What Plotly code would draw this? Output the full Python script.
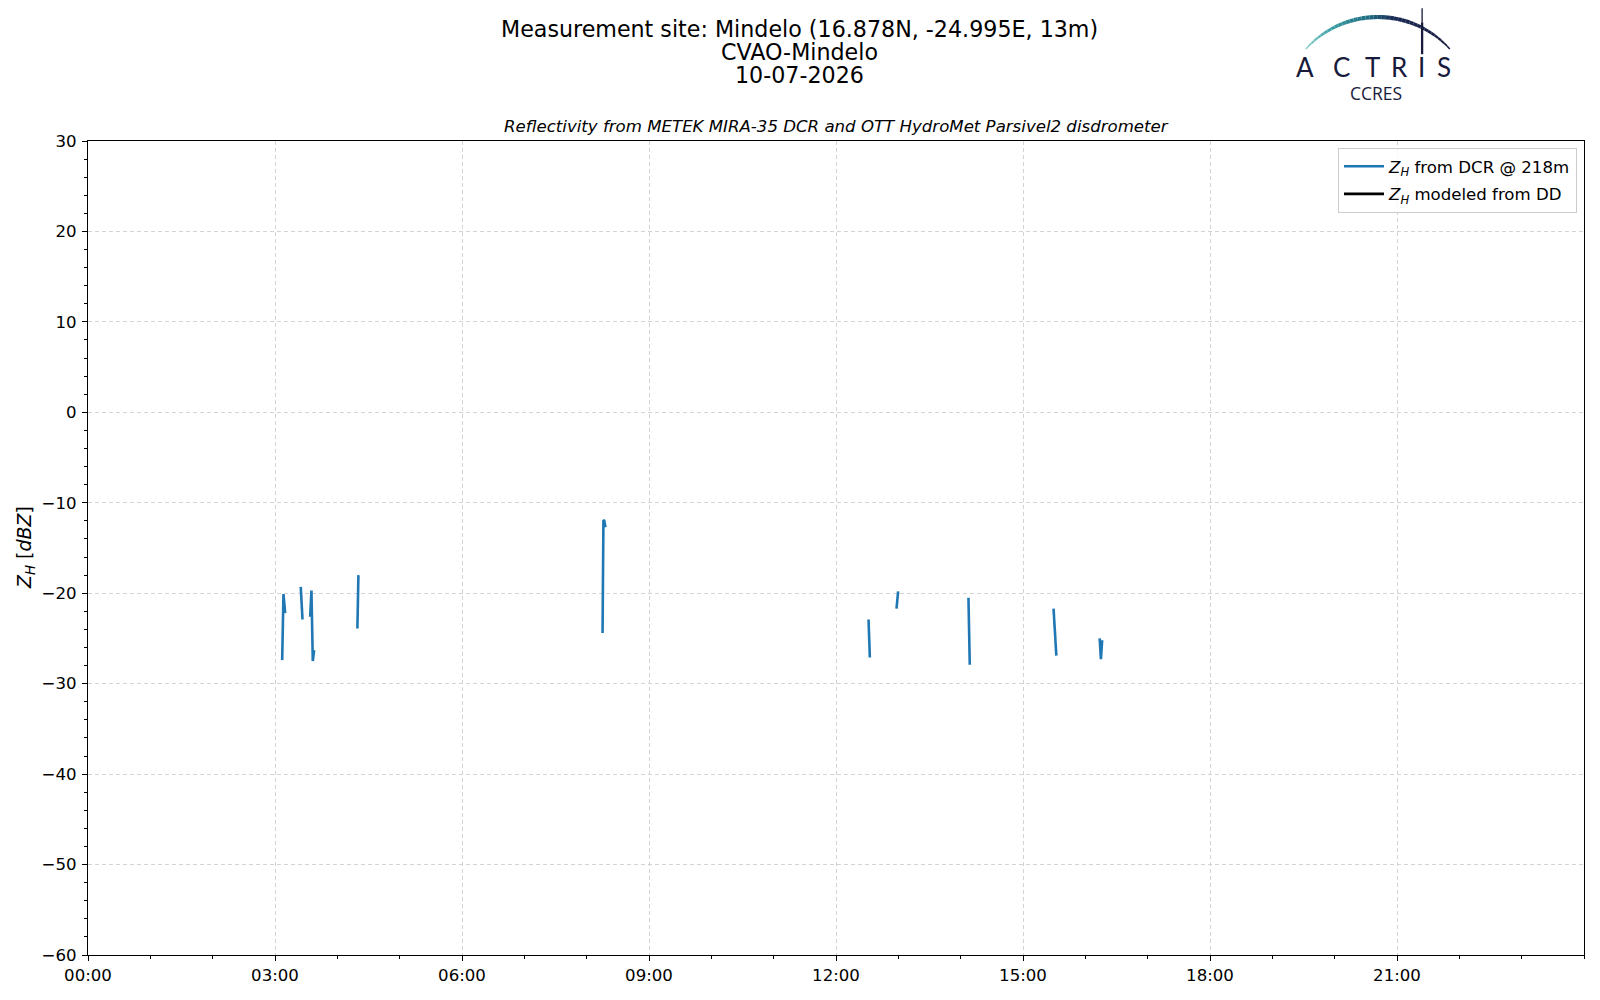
import numpy as np
import plotly.graph_objects as go

# ---------------- data ----------------
DAY = "2026-07-10"
NEXT_DAY = "2026-07-11"

# DCR reflectivity at 218 m (None = gap between rain events)
times = ["03:06:54", "03:08:10", "03:09:47", None,
         "03:24:47", "03:26:28", None,
         "03:33:50", "03:35:06", "03:36:22", "03:37:41", None,
         "04:19:19", "04:20:17", None,
         "08:15:18", "08:16:08", "08:17:00", "08:18:04", None,
         "12:31:19", "12:32:35", None,
         "12:58:16", "12:59:49", None,
         "14:07:30", "14:08:46", None,
         "15:29:24", "15:30:22", "15:32:06", None,
         "16:13:48", "16:15:00", "16:16:12"]
zh_dcr = [-27.4, -20.1, -22.2, None,
          -19.3, -22.9, None,
          -22.6, -19.7, -27.5, -26.3, None,
          -23.9, -18.0, None,
          -24.4, -11.9, -12.0, -12.7, None,
          -22.9, -27.1, None,
          -21.7, -19.8, None,
          -20.5, -27.9, None,
          -21.7, -23.6, -26.9, None,
          -25.0, -27.3, -25.2]

# Z_H modeled from disdrometer DSD (no valid data on this day)
times_dd = ["00:00:00"]
zh_dd = [None]

x_tick_labels = ["00:00", "03:00", "06:00", "09:00", "12:00", "15:00", "18:00", "21:00"]
y_tick_values = [-60, -50, -40, -30, -20, -10, 0, 10, 20, 30]

title_lines = ["Measurement site: Mindelo (16.878N, -24.995E, 13m)",
               "CVAO-Mindelo",
               "10-07-2026"]
subtitle = "Reflectivity from METEK MIRA-35 DCR and OTT HydroMet Parsivel2 disdrometer"
legend_dcr = "<i>Z</i><sub><i>H</i></sub> from DCR @ 218m"
legend_dd = "<i>Z</i><sub><i>H</i></sub> modeled from DD"
y_title = "<i>Z</i><sub><i>H</i></sub> [<i>dBZ</i>]"
logo_letters = ["A", "C", "T", "R", "I", "S"]
logo_sub = "CCRES"

# ---------------- layout geometry ----------------
# the page body has an 8px margin, so the figure is laid out in page pixels minus 8
OFF = 8
W, H = 1600 - 2 * OFF, 1000 - 2 * OFF
# plot area in page pixels: x 88.3..1585, y 140.7..957.3
ML = 88 - OFF
MT = 141 - OFF
MR = W - (1585 - OFF)
MB = H - (957 - OFF)
PW, PH = W - ML - MR, H - MT - MB
FONT = "DejaVu Sans"


def px(xp):
    """page pixel x -> paper coordinate"""
    return (xp - OFF - ML) / PW


def py(yp):
    """page pixel y -> paper coordinate"""
    return (H - MB - (yp - OFF)) / PH


fig = go.Figure()
fig.add_trace(go.Scatter(
    x=[f"{DAY} {t}" if t else None for t in times], y=zh_dcr,
    mode="lines", name=legend_dcr, connectgaps=False,
    line=dict(color="#1f77b4", width=2.6), legendgroup="a"))
fig.add_trace(go.Scatter(
    x=[f"{DAY} {t}" for t in times_dd], y=zh_dd,
    mode="lines", name=legend_dd, showlegend=True,
    line=dict(color="black", width=2.6), legendgroup="b"))

annotations = []
# titles
for txt, yc in zip(title_lines, [28.6, 52.1, 74.6]):
    annotations.append(dict(text=txt, x=px(800), y=py(yc), xref="paper", yref="paper",
                            xanchor="center", yanchor="middle", showarrow=False,
                            font=dict(family=FONT, size=22.2, color="black")))
annotations.append(dict(text=f"<i>{subtitle}</i>", x=0.5, y=py(126), xref="paper", yref="paper",
                        xanchor="center", yanchor="middle", showarrow=False,
                        font=dict(family=FONT, size=16.6, color="black")))
annotations.append(dict(text=y_title, x=px(25), y=0.5, xref="paper", yref="paper",
                        xanchor="center", yanchor="middle", showarrow=False, textangle=-90,
                        font=dict(family=FONT, size=19, color="black")))

# ---------------- logo ----------------
logo_col = "#171a3b"
for letter, xc in zip(logo_letters, [1305.7, 1342.3, 1373.3, 1400.0, 1422.7, 1445.0]):
    annotations.append(dict(text=letter, x=px(xc), y=py(66.5), xref="paper", yref="paper",
                            xanchor="center", yanchor="middle", showarrow=False,
                            font=dict(family="Lato", size=26, color=logo_col)))
annotations.append(dict(text=logo_sub, x=px(1376.7), y=py(92.5), xref="paper", yref="paper",
                        xanchor="center", yanchor="middle", showarrow=False,
                        font=dict(family="Open Sans", size=17.5, color=logo_col)))

shapes = []
cx, cy, R = 1378.7, 113.7, 97.0
th_max = np.arcsin(72 / 97)
N = 40
stops = [(-1.0, (143, 208, 204)), (-0.6, (58, 160, 165)), (-0.1, (31, 108, 130)),
         (0.2, (27, 42, 85)), (1.0, (22, 26, 60))]


def col_at(u):
    for (u0, c0), (u1, c1) in zip(stops[:-1], stops[1:]):
        if u0 <= u <= u1:
            f = (u - u0) / (u1 - u0)
            c = [int(round(a + (b - a) * f)) for a, b in zip(c0, c1)]
            return f"rgb({c[0]},{c[1]},{c[2]})"
    return "rgb(22,26,60)"


ths = np.linspace(-th_max, th_max, N + 1)
for i in range(N):
    t0, t1 = ths[i], ths[i + 1]
    u = (t0 + t1) / 2 / th_max
    wdt = 1.4 + 2.8 * np.cos(u * np.pi / 2)
    x0, y0 = cx + R * np.sin(t0), cy - R * np.cos(t0)
    x1, y1 = cx + R * np.sin(t1), cy - R * np.cos(t1)
    shapes.append(dict(type="line", xref="paper", yref="paper",
                       x0=px(x0), y0=py(y0), x1=px(x1), y1=py(y1),
                       line=dict(color=col_at(u), width=wdt), layer="above"))
shapes.append(dict(type="line", xref="paper", yref="paper", x0=px(1423), y0=py(OFF), x1=px(1423), y1=py(22),
                   line=dict(color=logo_col, width=1.3)))
shapes.append(dict(type="line", xref="paper", yref="paper", x0=px(1423), y0=py(22), x1=px(1423), y1=py(54),
                   line=dict(color=logo_col, width=2.3)))

axis_common = dict(showline=True, linecolor="black", linewidth=1.1, mirror=True,
                   ticks="outside", ticklen=5, tickwidth=1.1, tickcolor="black",
                   showgrid=True, gridcolor="#d3d3d3", gridwidth=1, griddash="4px,3px",
                   zeroline=False, tickfont=dict(family=FONT, size=16.6, color="black"))

fig.update_layout(
    width=W, height=H,
    margin=dict(l=ML, r=MR, t=MT, b=MB, pad=0),
    paper_bgcolor="white", plot_bgcolor="white",
    showlegend=True,
    legend=dict(x=px(1578), y=py(148), xanchor="right", yanchor="top",
                bgcolor="rgba(255,255,255,0.8)", bordercolor="#cccccc", borderwidth=1,
                font=dict(family=FONT, size=16.6, color="black"),
                tracegroupgap=3, itemwidth=40),
    xaxis=dict(type="date", range=[f"{DAY} 00:00", f"{NEXT_DAY} 00:00"],
               tickmode="array", tickvals=[f"{DAY} {t}" for t in x_tick_labels],
               ticktext=x_tick_labels,
               minor=dict(tickmode="linear", tick0=f"{DAY} 00:00", dtick=3600000,
                          ticks="outside", ticklen=3, tickwidth=1, tickcolor="black", showgrid=False),
               **axis_common),
    yaxis=dict(range=[-60, 30], tickmode="array", tickvals=y_tick_values,
               ticklabelstandoff=2,
               minor=dict(tickmode="linear", tick0=-60, dtick=2, ticks="outside",
                          ticklen=3, tickwidth=1, tickcolor="black", showgrid=False),
               **axis_common),
    annotations=annotations,
    shapes=shapes,
)

fig.write_html("out.html")
